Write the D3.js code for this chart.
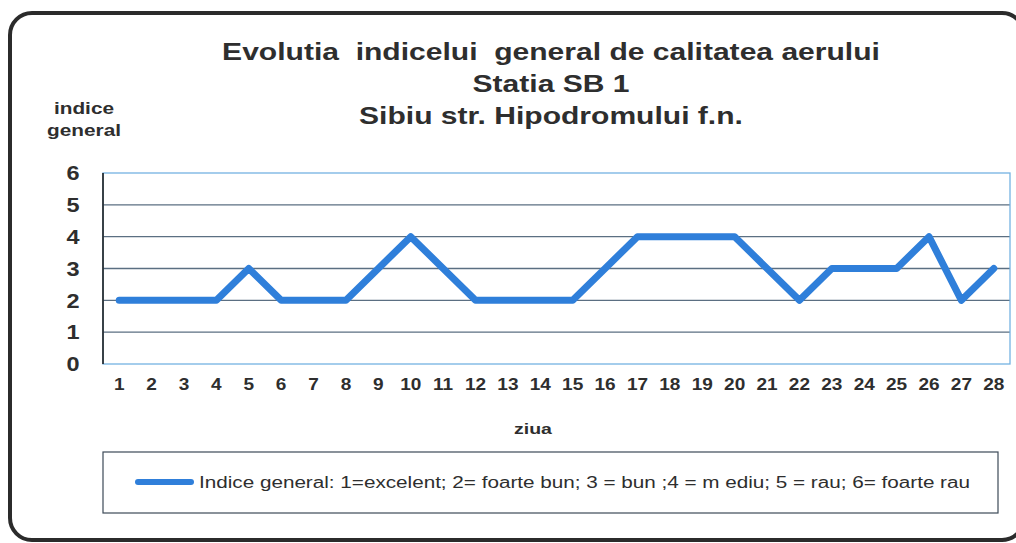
<!DOCTYPE html>
<html><head><meta charset="utf-8">
<script src="https://cdn.jsdelivr.net/npm/d3@7"></script>
<style>html,body{margin:0;padding:0;background:#fff;}svg{display:block;}</style>
</head><body>
<svg id="c" width="1016" height="543"></svg>
<script>
const days = ["1","2","3","4","5","6","7","8","9","10","11","12","13","14","15","16","17","18","19","20","21","22","23","24","25","26","27","28"];
const values = [2,2,2,2,3,2,2,2,3,4,3,2,2,2,2,3,4,4,4,4,3,2,3,3,3,4,2,3];
const yTicks = [0,1,2,3,4,5,6];
const titleLines = ["Evolutia  indicelui  general de calitatea aerului","Statia SB 1","Sibiu str. Hipodromului f.n."];
const yLabel = ["indice","general"];
const xLabel = "ziua";
const legendText = "Indice general: 1=excelent; 2= foarte bun; 3 = bun ;4 = m ediu; 5 = rau; 6= foarte rau";

const svg = d3.select("#c");
const font = "Liberation Sans, Arial, sans-serif";
const textCol = "#2e2e2e";

function stretch(sel, cx, k){ sel.attr("transform",`translate(${cx},0) scale(${k},1) translate(${-cx},0)`); }

// outer frame
svg.append("rect").attr("x",10).attr("y",13).attr("width",1014).attr("height",527)
  .attr("rx",22).attr("ry",22).attr("fill","none").attr("stroke","#2b2b2b").attr("stroke-width",4);

const L=103, R=1010, T=173, B=364;
const x = d3.scaleBand().domain(days).range([L,R]);
const y = d3.scaleLinear().domain([0,6]).range([B,T]);

// gridlines
const g = svg.append("g");
g.selectAll("line.grid").data(yTicks.filter(d=>d>0&&d<6)).join("line")
  .attr("x1",L).attr("x2",R).attr("y1",d=>y(d)).attr("y2",d=>y(d))
  .attr("stroke","#5b6f82").attr("stroke-width",1.3);
g.append("rect").attr("x",L).attr("y",T).attr("width",R-L).attr("height",B-T)
  .attr("fill","none").attr("stroke","#74b2e2").attr("stroke-width",1.3);
g.append("line").attr("x1",L).attr("x2",L).attr("y1",T).attr("y2",B)
  .attr("stroke","#1e1e1e").attr("stroke-width",1.6);

// y axis labels
const yAxis = d3.axisLeft(y).tickValues(yTicks).tickSize(0).tickPadding(23).tickFormat(d3.format("d"));
const ya = svg.append("g").attr("transform",`translate(${L},0)`).call(yAxis);
ya.select(".domain").remove();
ya.selectAll("text").attr("font-family",font).attr("font-size",21).attr("font-weight","bold").attr("fill",textCol)
  .attr("text-anchor","middle").attr("x",-30).attr("transform","translate(-30,0) scale(1.12,1) translate(30,0)");

// x axis labels
const xAxis = d3.axisBottom(x).tickSize(0).tickPadding(14);
const xa = svg.append("g").attr("transform",`translate(0,${B})`).call(xAxis);
xa.select(".domain").remove();
xa.selectAll("text").attr("font-family",font).attr("font-size",17).attr("font-weight","bold").attr("fill",textCol)
  .attr("transform","scale(1.12,1)");

// line
const line = d3.line().x((d,i)=>x(days[i])+x.bandwidth()/2).y(d=>y(d));
svg.append("path").datum(values).attr("d",line).attr("fill","none")
  .attr("stroke","#2f7fda").attr("stroke-width",7).attr("stroke-linejoin","round").attr("stroke-linecap","round");

// title
const tcx = 551;
const tt = svg.append("g").selectAll("text").data(titleLines).join("text")
  .attr("x",tcx).attr("y",(d,i)=>60+i*32).attr("text-anchor","middle")
  .attr("font-family",font).attr("font-size",23).attr("font-weight","bold").attr("fill",textCol)
  .attr("xml:space","preserve").style("white-space","pre").text(d=>d);
const w1 = tt.nodes()[0].getComputedTextLength();
stretch(tt, tcx, 658 / w1);

// y label
const yl = svg.append("g").selectAll("text").data(yLabel).join("text")
  .attr("x",84).attr("y",(d,i)=>114+i*22).attr("text-anchor","middle")
  .attr("font-family",font).attr("font-size",16).attr("font-weight","bold").attr("fill",textCol).text(d=>d);
stretch(yl, 84, 1.3);

// x label
const xl = svg.append("text").attr("x",533).attr("y",434).attr("text-anchor","middle")
  .attr("font-family",font).attr("font-size",15).attr("font-weight","bold").attr("fill",textCol).text(xLabel);
stretch(xl, 533, 1.3);

// legend
svg.append("rect").attr("x",103).attr("y",452).attr("width",895).attr("height",61)
  .attr("fill","none").attr("stroke","#3d4a58").attr("stroke-width",1.2);
svg.append("line").attr("x1",138).attr("x2",191).attr("y1",482).attr("y2",482)
  .attr("stroke","#2f7fda").attr("stroke-width",6).attr("stroke-linecap","round");
svg.append("text").attr("x",199).attr("y",488).attr("font-family",font).attr("font-size",16)
  .attr("fill",textCol).attr("textLength",771).attr("lengthAdjust","spacingAndGlyphs").text(legendText);
</script>
</body></html>
